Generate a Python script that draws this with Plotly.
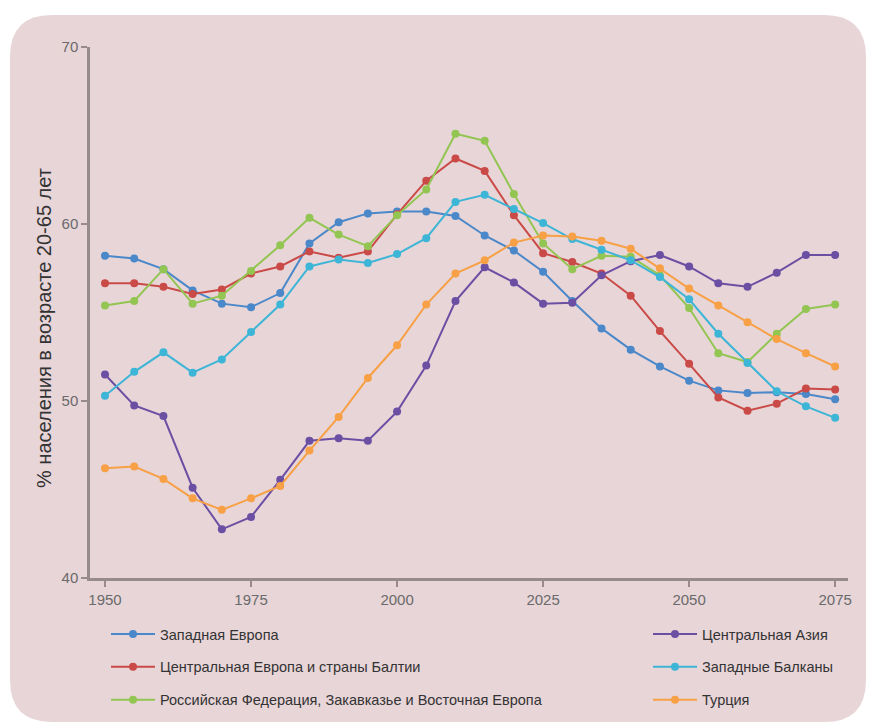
import plotly.graph_objects as go

years = list(range(1950, 2080, 5))

western_europe = [58.2, 58.05, 57.45, 56.25, 55.5, 55.3, 56.1, 58.9, 60.1, 60.6, 60.7, 60.7, 60.45,
                  59.35, 58.5, 57.3, 55.65, 54.1, 52.9, 51.95, 51.15, 50.6, 50.45, 50.5, 50.4, 50.1]
central_europe = [56.65, 56.65, 56.45, 56.05, 56.3, 57.2, 57.6, 58.45, 58.1, 58.45, 60.55, 62.45, 63.7,
                  63.0, 60.5, 58.35, 57.85, 57.2, 55.95, 53.95, 52.1, 50.2, 49.45, 49.85, 50.7, 50.65]
russia = [55.4, 55.65, 57.45, 55.5, 55.95, 57.35, 58.8, 60.35, 59.4, 58.75, 60.5, 61.95, 65.1,
          64.7, 61.7, 58.9, 57.45, 58.2, 58.15, 57.1, 55.25, 52.7, 52.2, 53.8, 55.2, 55.45]
central_asia = [51.5, 49.75, 49.15, 45.1, 42.75, 43.45, 45.55, 47.75, 47.9, 47.75, 49.4, 52.0, 55.65,
                57.55, 56.7, 55.5, 55.55, 57.1, 57.9, 58.25, 57.6, 56.65, 56.45, 57.25, 58.25, 58.25]
western_balkans = [50.3, 51.65, 52.75, 51.6, 52.35, 53.9, 55.45, 57.6, 58.0, 57.8, 58.3, 59.2, 61.25,
                   61.65, 60.85, 60.05, 59.15, 58.55, 57.95, 57.0, 55.75, 53.8, 52.15, 50.55, 49.7, 49.05]
turkey = [46.2, 46.3, 45.6, 44.5, 43.85, 44.5, 45.2, 47.2, 49.1, 51.3, 53.15, 55.45, 57.2,
          57.95, 58.95, 59.35, 59.3, 59.05, 58.6, 57.5, 56.35, 55.4, 54.45, 53.5, 52.7, 51.95]

names = ["Западная Европа", "Центральная Европа и страны Балтии",
         "Российская Федерация, Закавказье и Восточная Европа",
         "Центральная Азия", "Западные Балканы", "Турция"]
series = [western_europe, central_europe, russia, central_asia, western_balkans, turkey]
colors = ["#4a88c9", "#c94a46", "#93c552", "#6b4fa3", "#3db5d6", "#f7a045"]
legends = ["legend", "legend", "legend", "legend2", "legend2", "legend2"]

x_ticks = [1950, 1975, 2000, 2025, 2050, 2075]
y_ticks = [40, 50, 60, 70]

OFF = 8  # page body margin
W, H = 874 - OFF, 728 - OFF
L, T = 90 - OFF, 47 - OFF
R = W - (848 - OFF)
B = H - (578 - OFF)
pw, ph = W - L - R, H - T - B

fig = go.Figure()
for i, (n, s, c, lg) in enumerate(zip(names, series, colors, legends)):
    fig.add_trace(go.Scatter(
        x=years, y=s, name=n, mode="lines+markers",
        line=dict(color=c, width=2),
        marker=dict(color=c, size=8),
        legend=lg, legendgroup=str(i),
    ))

def px2paper(px, py):
    # px, py in reference-screen pixels
    return (px - OFF - L) / pw, (H - B - (py - OFF)) / ph

def P(px, py):
    a, b = px2paper(px, py)
    return f"{a:.5f},{b:.5f}"

# rounded background panel
x0, y0, x1, y1, r = 10, 15, 866, 722, 42
path = (f"M {P(x0 + r, y0)} L {P(x1 - r, y0)} Q {P(x1, y0)} {P(x1, y0 + r)} "
        f"L {P(x1, y1 - r)} Q {P(x1, y1)} {P(x1 - r, y1)} "
        f"L {P(x0 + r, y1)} Q {P(x0, y1)} {P(x0, y1 - r)} "
        f"L {P(x0, y0 + r)} Q {P(x0, y0)} {P(x0 + r, y0)} Z")
fig.add_shape(type="path", path=path, xref="paper", yref="paper",
              fillcolor="#e8d5d8", line=dict(width=0), layer="below")

ax, ay = px2paper(31, 328)
fig.add_annotation(text="% населения в возрасте 20-65 лет", xref="paper", yref="paper",
                   x=ax, y=ay, textangle=-90, showarrow=False,
                   font=dict(size=20, color="#333333", family="Liberation Sans"))

lx1, ly = px2paper(106, 618)
lx2, _ = px2paper(648, 618)
legend_style = dict(yanchor="top", xanchor="left", bgcolor="rgba(0,0,0,0)",
                    font=dict(size=14.5, color="#333333", family="Liberation Sans"),
                    traceorder="grouped", tracegroupgap=11, itemwidth=44)

fig.update_layout(
    width=W, height=H,
    margin=dict(l=L, r=R, t=T, b=B),
    paper_bgcolor="white",
    plot_bgcolor="rgba(0,0,0,0)",
    showlegend=True,
    legend=dict(x=lx1, y=ly, **legend_style),
    legend2=dict(x=lx2, y=ly, **legend_style),
    xaxis=dict(range=[1947.43, 2077.2], tickvals=x_ticks, showgrid=False, zeroline=False,
               showline=True, linecolor="#978b8d", linewidth=2.5,
               ticks="outside", ticklen=6, tickcolor="#978b8d", tickwidth=1.5,
               tickfont=dict(size=15, color="#6a6a6a", family="Liberation Sans")),
    yaxis=dict(range=[40, 70], tickvals=y_ticks, showgrid=False, zeroline=False,
               showline=True, linecolor="#978b8d", linewidth=2.5,
               ticks="outside", ticklen=6, tickcolor="#978b8d", tickwidth=1.5,
               tickfont=dict(size=15, color="#6a6a6a", family="Liberation Sans")),
)

fig.write_html("out.html")
